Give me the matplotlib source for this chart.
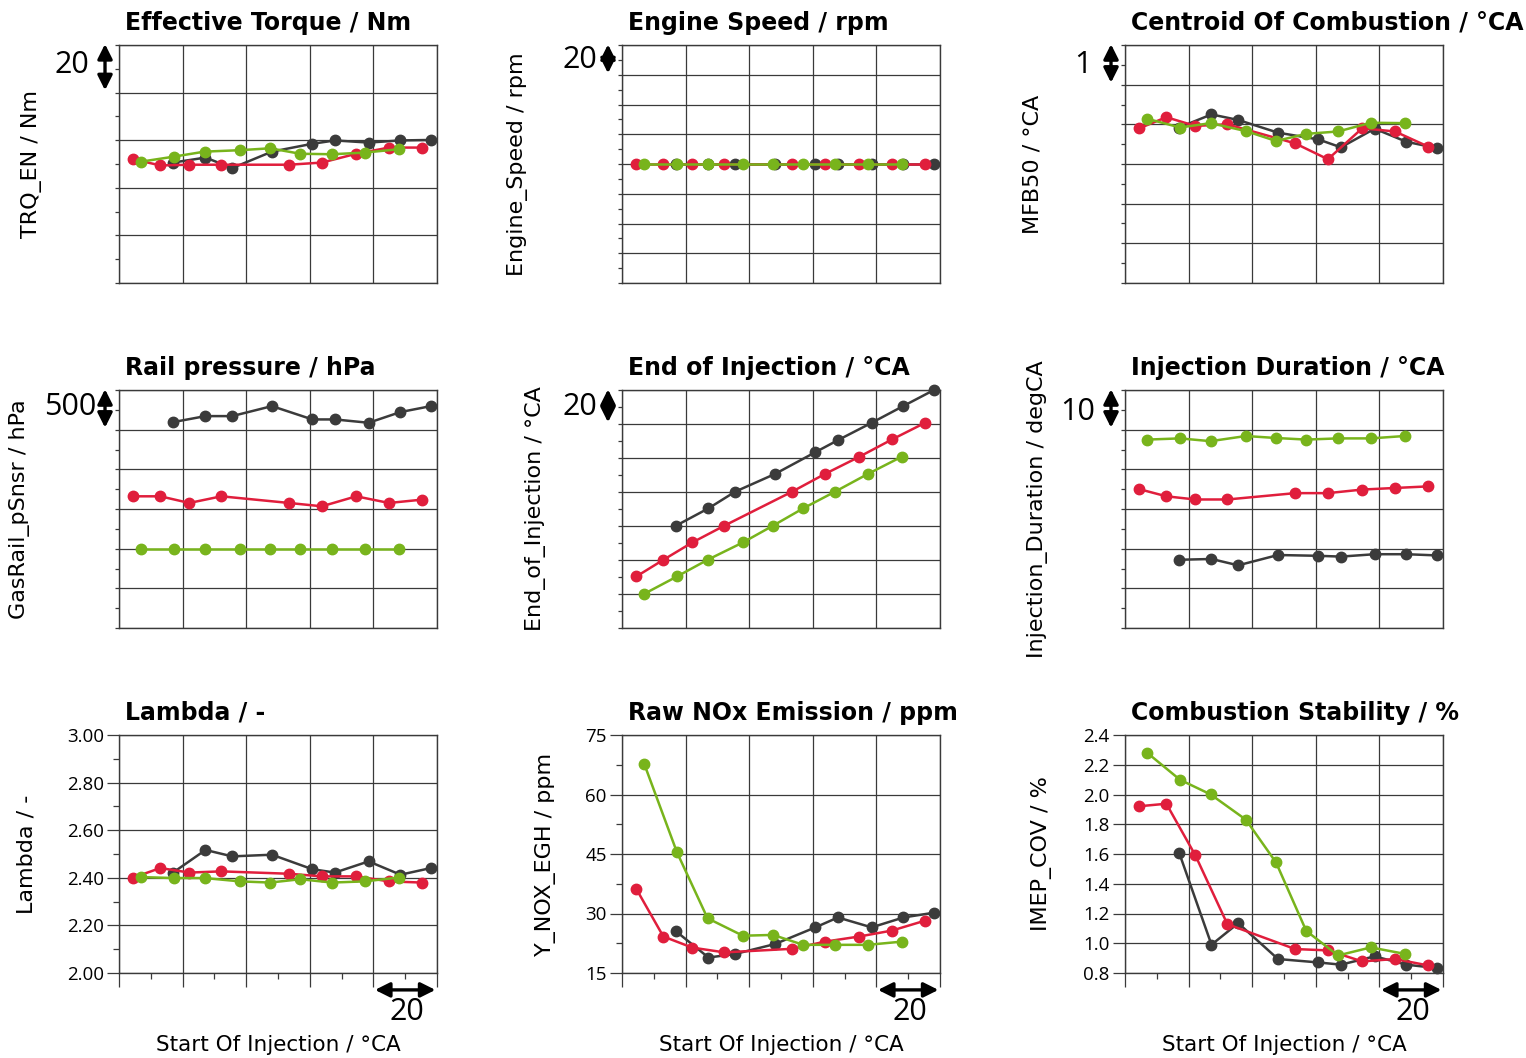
import numpy as np
import matplotlib.pyplot as plt
import matplotlib.transforms as mtrans
from matplotlib.ticker import MultipleLocator, FormatStrFormatter

plt.rcParams['font.family'] = ['Open Sans', 'DejaVu Sans']

# start of injection for the three sweeps (relative, °CA)
soi_black = [17, 27.2, 35.6, 48.1, 60.8, 67.9, 78.5, 88.5, 98.1]
soi_red = [4.5, 13, 22.1, 32.2, 53.5, 63.8, 74.6, 84.9, 95.3]
soi_green = [7, 17.3, 26.9, 38, 47.5, 57, 67, 77.3, 87.9]

# effective torque / Nm
trq_black = [110.6, 112.7, 108.3, 115.2, 118.5, 119.9, 119.0, 119.9, 120.1]
trq_red = [112.0, 109.4, 109.7, 109.7, 109.7, 110.6, 114.3, 116.9, 116.9]
trq_green = [111.0, 113.1, 115.2, 115.8, 116.6, 114.3, 114.1, 114.8, 116.2]

# engine speed / rpm
spd_black = [1500] * 9
spd_red = [1500] * 9
spd_green = [1500] * 9

# centroid of combustion MFB50 / °CA
mfb_black = [7.92, 8.25, 8.11, 7.79, 7.62, 7.42, 7.89, 7.56, 7.40]
mfb_red = [7.90, 8.18, 7.96, 8.00, 7.52, 7.12, 7.90, 7.82, 7.44]
mfb_green = [8.14, 7.92, 8.03, 7.83, 7.58, 7.76, 7.82, 8.04, 8.03]

# rail pressure / hPa
rail_black = [5595, 5671, 5671, 5797, 5629, 5629, 5587, 5722, 5797]
rail_red = [4660, 4660, 4576, 4660, 4576, 4534, 4660, 4576, 4618]
rail_green = [4000] * 9

# end of injection / °CA
eoi_black = [-39.8, -29.6, -19.8, -9.4, 3.4, 10.5, 20.7, 30.6, 40.0]
eoi_red = [-69.7, -59.9, -49.7, -39.8, -19.8, -9.4, 0.7, 10.9, 20.7]
eoi_green = [-79.9, -69.7, -59.9, -49.7, -39.8, -29.6, -19.8, -9.4, 0.7]

# injection duration / degCA
dur_black = [17.2, 17.4, 15.8, 18.4, 18.2, 18.0, 18.6, 18.6, 18.3]
dur_red = [35.0, 33.2, 32.4, 32.4, 34.0, 34.0, 34.9, 35.3, 35.7]
dur_green = [47.5, 47.8, 47.1, 48.4, 47.9, 47.5, 47.8, 47.8, 48.4]

# lambda / -
lam_black = [2.422, 2.517, 2.490, 2.497, 2.436, 2.422, 2.469, 2.413, 2.441]
lam_red = [2.401, 2.441, 2.422, 2.427, 2.417, 2.406, 2.406, 2.385, 2.380]
lam_green = [2.403, 2.399, 2.399, 2.385, 2.380, 2.394, 2.380, 2.385, 2.401]

# raw NOx / ppm
nox_black = [25.5, 18.9, 19.8, 22.3, 26.5, 29.0, 26.5, 29.0, 30.2]
nox_red = [36.2, 24.2, 21.4, 20.2, 21.1, 22.9, 24.2, 25.7, 28.2]
nox_green = [67.7, 45.4, 28.8, 24.4, 24.6, 22.1, 22.1, 22.1, 22.9]

# combustion stability IMEP COV / %
cov_black = [1.61, 0.99, 1.135, 0.894, 0.871, 0.856, 0.912, 0.856, 0.833]
cov_red = [1.921, 1.938, 1.592, 1.128, 0.961, 0.952, 0.878, 0.894, 0.851]
cov_green = [2.28, 2.099, 2.001, 1.831, 1.543, 1.083, 0.918, 0.972, 0.929]

BLACK = '#3b3b3b'
RED = '#e01e3c'
GREEN = '#78b41c'
WIDE = ['DejaVu Sans']

# title, ylabel, series, ylim, major, minor, scale text, fmt, ylabel x px, scale text (dx px, dy px)
panels = [
    ('Effective Torque / Nm', 'TRQ_EN / Nm', (trq_black, trq_red, trq_green), (60, 160), 20, 10, '20', None, 32, (-30, 20)),
    ('Engine Speed / rpm', 'Engine_Speed / rpm', (spd_black, spd_red, spd_green), (1420, 1580), 20, 10, '20', None, 518, (-25, 15)),
    ('Centroid Of Combustion / °CA', 'MFB50 / °CA', (mfb_black, mfb_red, mfb_green), (4, 10), 1, 0.5, '1', None, 1033, (-33, 20)),
    ('Rail pressure / hPa', 'GasRail_pSnsr / hPa', (rail_black, rail_red, rail_green), (3000, 6000), 500, 250, '500', None, 20, (-23, 17)),
    ('End of Injection / °CA', 'End_of_Injection / °CA', (eoi_black, eoi_red, eoi_green), (-100, 40), 20, 10, '20', None, 535, (-25, 17)),
    ('Injection Duration / °CA', 'Injection_Duration / degCA', (dur_black, dur_red, dur_green), (0, 60), 10, 5, '10', None, 1038, (-30, 22)),
    ('Lambda / -', 'Lambda / -', (lam_black, lam_red, lam_green), (2.0, 3.0), 0.2, 0.1, None, '%.2f', 27, None),
    ('Raw NOx Emission / ppm', 'Y_NOX_EGH / ppm', (nox_black, nox_red, nox_green), (15, 75), 15, 7.5, None, '%d', 546, None),
    ('Combustion Stability / %', 'IMEP_COV / %', (cov_black, cov_red, cov_green), (0.8, 2.4), 0.2, None, None, '%.1f', 1042, None),
]

W, H = 1526, 1058
lefts = [119, 622, 1125]
tops = [45, 390, 735]
aw, ah = 318, 238

fig = plt.figure(figsize=(W / 100, H / 100), dpi=100)

arrow_style = dict(arrowstyle='<|-|>', color='black', lw=2.4,
                   mutation_scale=22, shrinkA=0, shrinkB=0)

for i, (title, ylab, series, ylim, major, minor, scale, fmt, ylx, sofs) in enumerate(panels):
    r, c = divmod(i, 3)
    ax = fig.add_axes([lefts[c] / W, 1 - (tops[r] + ah) / H, aw / W, ah / H])
    for ys, xs, col in zip(series, (soi_black, soi_red, soi_green), (BLACK, RED, GREEN)):
        ax.plot(xs, ys, '-o', color=col, lw=1.8, ms=7.5, zorder=3, clip_on=False)
    ax.set_xlim(0, 100)
    ax.set_ylim(*ylim)
    ax.xaxis.set_major_locator(MultipleLocator(20))
    ax.xaxis.set_minor_locator(MultipleLocator(10))
    ax.yaxis.set_major_locator(MultipleLocator(major))
    if minor:
        ax.yaxis.set_minor_locator(MultipleLocator(minor))
    ax.grid(True, which='major', color='#3a3a3a', lw=0.9)
    ax.set_axisbelow(True)
    for s in ax.spines.values():
        s.set_color('#3a3a3a')
        s.set_linewidth(1.0)

    ax.set_title(title, loc='left', x=6 / aw, pad=11, fontsize=17,
                 fontweight='bold', family=WIDE)
    ax.set_ylabel(ylab, fontsize=16, va='center', family=WIDE)
    ax.yaxis.set_label_coords((ylx - lefts[c]) / aw, 0.5)

    if fmt is None:
        ax.tick_params(axis='x', which='both', length=0, labelbottom=False)
        ax.tick_params(axis='y', which='both', length=3, width=0.9, color='#3a3a3a', labelleft=False)
        tr = mtrans.blended_transform_factory(ax.transAxes, ax.transData)
        ax.annotate('', xy=(-0.044, ylim[1] + major * 0.02), xytext=(-0.044, ylim[1] - major * 0.95),
                    xycoords=tr, textcoords=tr, annotation_clip=False, arrowprops=arrow_style)
        ax.text(sofs[0] / aw, 1 - sofs[1] / ah, scale, transform=ax.transAxes,
                ha='right', va='center', fontsize=22)
    else:
        ax.yaxis.set_major_formatter(FormatStrFormatter(fmt))
        ax.tick_params(axis='y', which='major', length=9, width=0.9, color='#3a3a3a',
                       labelsize=13.5, pad=2)
        ax.tick_params(axis='y', which='minor', length=4, width=0.9, color='#3a3a3a')
        ax.tick_params(axis='x', which='major', length=10, width=0.9, color='#3a3a3a', labelbottom=False)
        ax.tick_params(axis='x', which='minor', length=4, width=0.9, color='#3a3a3a')
        tr = mtrans.blended_transform_factory(ax.transData, ax.transAxes)
        ax.annotate('', xy=(80.5, -0.071), xytext=(99.5, -0.071),
                    xycoords=tr, textcoords=tr, annotation_clip=False, arrowprops=arrow_style)
        ax.text(90.5, -0.164, '20', transform=tr, ha='center', va='center', fontsize=22)
        ax.set_xlabel('Start Of Injection / °CA', fontsize=15.5, va='center', family=WIDE)
        ax.xaxis.set_label_coords(0.5, -0.303)

fig.savefig('out.png', dpi=100, facecolor='white')
